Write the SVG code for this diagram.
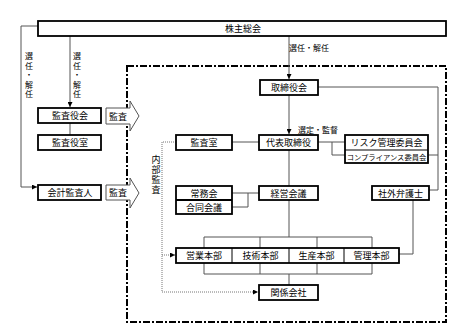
<svg xmlns="http://www.w3.org/2000/svg" width="470" height="333" viewBox="0 0 470 333">
<defs>
<style>
.box{fill:#fff;stroke:#000;stroke-width:1.8}
.div{stroke:#000;stroke-width:1;fill:none}
.t{font-family:"Noto Sans CJK JP","Noto Sans CJK SC",sans-serif;font-size:9px;fill:#000;text-anchor:middle;dominant-baseline:central}
.s{font-size:8px}
.v{writing-mode:vertical-rl;text-orientation:upright}
.ln{fill:none;stroke:#555;stroke-width:1}
.dot{fill:none;stroke:#777;stroke-width:1;stroke-dasharray:1 1}
.frame{fill:none;stroke:#000;stroke-width:2;stroke-dasharray:7 2 2 2}
.arr{fill:#fff;stroke:#555;stroke-width:1}
</style>
<marker id="ah" viewBox="0 0 6 6" refX="6" refY="3" markerWidth="5" markerHeight="5" orient="auto"><path d="M0,0L6,3L0,6z" fill="#000"/></marker>
</defs>

<rect class="frame" x="127" y="66" width="319" height="256"/>

<g id="connectors">
<path class="ln" d="M38,26H21V187H37" marker-end="url(#ah)"/>
<path class="ln" d="M70,36V107" marker-end="url(#ah)"/>
<path class="ln" d="M70,123V135"/>
<path class="ln" d="M289,36V79" marker-end="url(#ah)"/>
<path class="ln" d="M318,87H438V190H429"/>
<path class="ln" d="M428,155H438"/>
<path class="ln" d="M289,95V134" marker-end="url(#ah)"/>
<path class="ln" d="M318,142H345M332,142V155H345"/>
<path class="ln" d="M232,142H259"/>
<path class="ln" d="M289,150V186"/>
<path class="ln" d="M232,193H248M232,207H248M248,193V207M248,193H259"/>
<path class="ln" d="M289,200V237"/>
<path class="ln" d="M204,237H372M204,237V248M260,237V248M317,237V248M372,237V248"/>
<path class="ln" d="M204,274H372M204,263V274M260,263V274M317,263V274M372,263V274"/>
<path class="ln" d="M289,274V285"/>
<path class="ln" d="M413,200V254H399"/>
<path class="dot" d="M176,142H162V292H258" marker-end="url(#ah)"/>
<path class="dot" d="M162,255H175" marker-end="url(#ah)"/>
</g>

<text id="label-left" class="t s v" x="29" y="76" letter-spacing="1.5">選任・解任</text>
<text id="label-mid" class="t s v" x="77" y="76" letter-spacing="1.5">選任・解任</text>
<text class="t s" x="309" y="47">選任・解任</text>
<text class="t s" x="318" y="129">選定・監督</text>
<text id="label-naibu" class="t v" x="156" y="175" letter-spacing="1">内部監査</text>

<g id="kabunushi"><rect class="box" x="38" y="21" width="408" height="15"/><text class="t" x="243" y="28.5">株主総会</text></g>
<g id="kansayakukai"><rect class="box" x="38" y="108" width="63" height="15"/><text class="t" x="70" y="115.5">監査役会</text></g>
<g id="kansayakushitsu"><rect class="box" x="38" y="135" width="63" height="15"/><text class="t" x="70" y="142.5">監査役室</text></g>
<g id="kaikei"><rect class="box" x="38" y="185" width="63" height="15"/><text class="t" x="70" y="192.5">会計監査人</text></g>

<g id="arrow1"><path class="arr" d="M106,108H130V101L139,116L130,131V124H106Z"/><text class="t" x="118" y="116">監査</text></g>
<g id="arrow2"><path class="arr" d="M106,185H130V178L139,193L130,208V200H106Z"/><text class="t" x="118" y="192.5">監査</text></g>

<g id="torishimariyakukai"><rect class="box" x="260" y="80" width="58" height="15"/><text class="t" x="289" y="87.5">取締役会</text></g>
<g id="daihyo"><rect class="box" x="259" y="135" width="59" height="15"/><text class="t" x="288.5" y="142.5">代表取締役</text></g>
<g id="kansashitsu"><rect class="box" x="176" y="135" width="56" height="15"/><text class="t" x="204" y="142.5">監査室</text></g>
<g id="risk"><rect class="box" x="345" y="135" width="83" height="28"/><line class="div" x1="345" y1="150" x2="428" y2="150"/><text class="t" x="386.5" y="142.5">リスク管理委員会</text><text class="t" style="font-size:7.3px" x="386.5" y="156.5">コンプライアンス委員会</text></g>
<g id="jomukai"><rect class="box" x="176" y="186" width="56" height="28"/><line class="box" x1="176" y1="200" x2="232" y2="200"/><text class="t" x="204" y="193">常務会</text><text class="t" x="204" y="207">合同会議</text></g>
<g id="keiei"><rect class="box" x="259" y="186" width="59" height="14"/><text class="t" x="288.5" y="193">経営会議</text></g>
<g id="bengoshi"><rect class="box" x="372" y="186" width="57" height="14"/><text class="t" x="400.5" y="193">社外弁護士</text></g>
<g id="honbu"><rect class="box" x="176" y="248" width="223" height="15"/><line class="div" x1="232" y1="248" x2="232" y2="263"/><line class="div" x1="289" y1="248" x2="289" y2="263"/><line class="div" x1="344" y1="248" x2="344" y2="263"/>
<text class="t" x="204" y="255.5">営業本部</text><text class="t" x="260.5" y="255.5">技術本部</text><text class="t" x="316.5" y="255.5">生産本部</text><text class="t" x="371.5" y="255.5">管理本部</text></g>
<g id="kankei"><rect class="box" x="259" y="285" width="59" height="15"/><text class="t" x="288.5" y="292.5">関係会社</text></g>
</svg>
